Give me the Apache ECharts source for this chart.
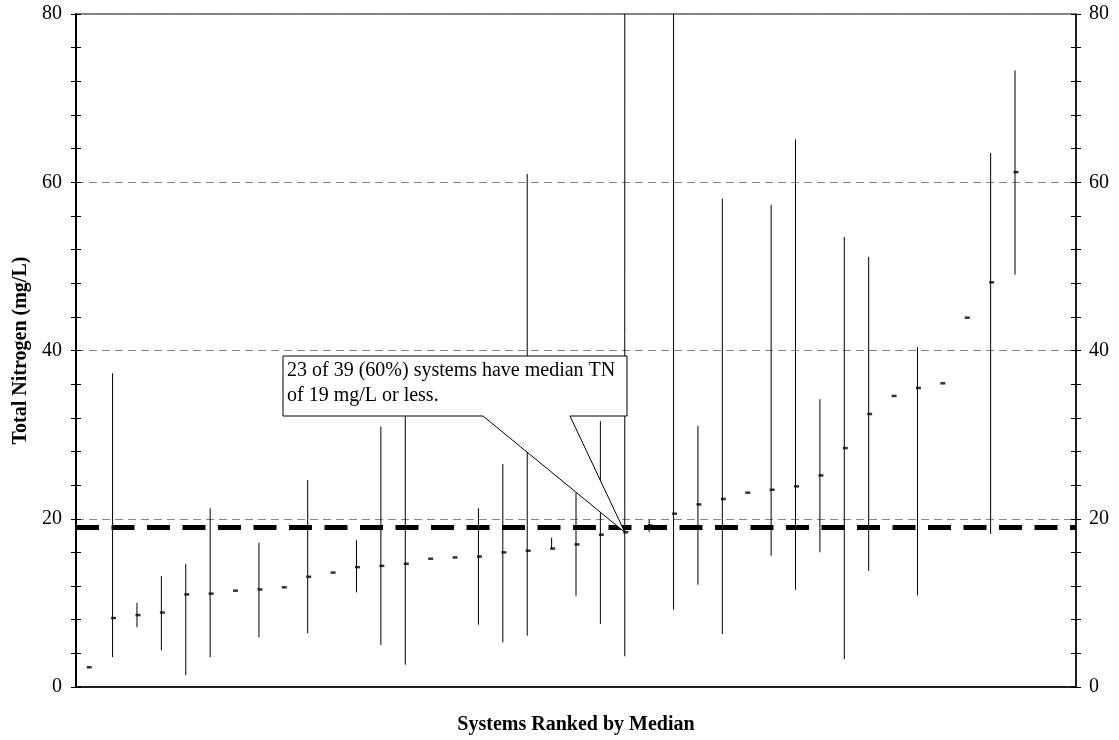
<!DOCTYPE html>
<html>
<head>
<meta charset="utf-8">
<script src="https://cdn.jsdelivr.net/npm/echarts@6/dist/echarts.min.js"></script>
<style>
  html, body { margin: 0; padding: 0; background: #fff; }
  #chart { width: 1119px; height: 740px; }
</style>
</head>
<body>
<div id="chart"></div>
<script>
// Total nitrogen per system: median with min-max range, systems ranked by median
const systems = ['S1','S2','S3','S4','S5','S6','S7','S8','S9','S10','S11','S12','S13','S14','S15','S16','S17','S18','S19','S20',
  'S21','S22','S23','S24','S25','S26','S27','S28','S29','S30','S31','S32','S33','S34','S35','S36','S37','S38','S39','',''];
const medians = [2.35, 8.2, 8.55, 8.85, 11.0, 11.1, 11.45, 11.6, 11.85, 13.1, 13.6, 14.25, 14.4, 14.65, 15.25, 15.4, 15.5, 16.0, 16.2, 16.45,
  16.95, 18.1, 18.4, 19.2, 20.6, 21.7, 22.35, 23.1, 23.45, 23.85, 25.15, 28.4, 32.45, 34.6, 35.55, 36.1, 43.9, 48.1, 61.2];
const lows = [null, 3.55, 7.1, 4.35, 1.4, 3.55, null, 5.9, null, 6.4, null, 11.25, 5.0, 2.65, null, null, 7.4, 5.3, 6.1, 16.45,
  10.8, 7.5, 3.65, 18.45, 9.2, 12.15, 6.3, null, 15.6, 11.55, 16.0, 3.3, 13.8, null, 10.9, null, null, 18.2, 49.0];
const highs = [null, 37.3, 10.0, 13.2, 14.6, 21.25, null, 17.15, null, 24.6, null, 17.45, 30.95, 36.0, null, null, 21.25, 26.5, 61.0, 17.75,
  23.1, 31.6, 80, 19.9, 80, 31.05, 58.05, null, 57.3, 65.1, 34.2, 53.5, 51.15, null, 40.4, null, null, 63.5, 73.3];
const yTicks = [0, 20, 40, 60, 80];
const threshold = 19;
const calloutIndex = 22;
const calloutText = '23 of 39 (60%) systems have median TN\nof 19 mg/L or less.';

const serif = '"Liberation Serif", "Times New Roman", serif';

const rangeData = [];
medians.forEach((m, i) => {
  if (lows[i] != null && highs[i] != null) rangeData.push([i, lows[i], highs[i]]);
});
const medianData = medians.map((m, i) => [i, m]);

function yAxisBase(position, inside, showLabel, lineWidth) {
  return {
    type: 'value',
    position: position,
    min: yTicks[0],
    max: yTicks[yTicks.length - 1],
    interval: yTicks[1] - yTicks[0],
    axisLine: { show: showLabel, onZero: false, lineStyle: { color: '#000', width: lineWidth } },
    axisTick: { show: true, inside: inside, length: 5, lineStyle: { color: '#000', width: 1 } },
    minorTick: { show: true, splitNumber: 5, length: 5, lineStyle: { color: '#000', width: 1 } },
    axisLabel: { show: showLabel, color: '#000', fontFamily: serif, fontSize: 20, margin: position === 'left' ? 14 : 13 },
    splitLine: { show: false }
  };
}

const chart = echarts.init(document.getElementById('chart'), null, { renderer: 'canvas' });

const leftMain = yAxisBase('left', false, true, 2);
leftMain.name = 'Total Nitrogen (mg/L)';
leftMain.nameLocation = 'middle';
leftMain.nameGap = 44;
leftMain.nameTextStyle = { color: '#000', fontFamily: serif, fontSize: 20, fontWeight: 'bold' };
leftMain.splitLine = { show: true, lineStyle: { color: '#888', width: 1, type: [8, 5] } };

chart.setOption({
  animation: false,
  backgroundColor: '#fff',
  grid: { left: 76, right: 43, top: 14, bottom: 50, show: true, borderColor: '#000', borderWidth: 1, backgroundColor: '#fff' },
  xAxis: {
    type: 'category',
    data: systems,
    boundaryGap: true,
    name: 'Systems Ranked by Median',
    nameLocation: 'middle',
    nameGap: 28,
    nameTextStyle: { color: '#000', fontFamily: serif, fontSize: 20, fontWeight: 'bold' },
    axisLine: { show: true, lineStyle: { color: '#000', width: 1.5 } },
    axisTick: { show: false },
    axisLabel: { show: false },
    splitLine: { show: false }
  },
  yAxis: [
    leftMain,
    yAxisBase('left', true, false, 2),
    yAxisBase('right', false, true, 1.5),
    yAxisBase('right', true, false, 1.5)
  ],
  series: [
    {
      name: 'Range',
      type: 'custom',
      data: rangeData,
      encode: { x: 0, y: [1, 2] },
      z: 2,
      renderItem: function (params, api) {
        const i = api.value(0);
        const top = api.coord([i, api.value(2)]);
        const bottom = api.coord([i, api.value(1)]);
        return {
          type: 'line',
          shape: { x1: top[0], y1: top[1], x2: bottom[0], y2: bottom[1] },
          style: { stroke: '#000', lineWidth: 1 }
        };
      }
    },
    {
      name: 'Median',
      type: 'scatter',
      data: medianData,
      symbol: 'rect',
      symbolSize: [5, 2.5],
      symbolOffset: [1, 0],
      itemStyle: { color: '#000' },
      z: 5,
      markLine: {
        silent: true,
        symbol: 'none',
        label: { show: false },
        lineStyle: { color: '#000', width: 5, type: [23, 12.5], cap: 'butt' },
        data: [{ yAxis: threshold }],
        z: 4
      }
    }
  ]
});

// Callout box with its pointer to the median of the highlighted system
const tip = chart.convertToPixel({ xAxisIndex: 0, yAxisIndex: 0 }, [calloutIndex, medians[calloutIndex]]);
const box = { left: 283, top: 356, right: 627, bottom: 416, tailLeft: 483, tailRight: 570 };
chart.setOption({
  graphic: [
    {
      type: 'polygon',
      z: 100,
      shape: {
        points: [
          [box.left, box.top], [box.right, box.top], [box.right, box.bottom],
          [box.tailRight, box.bottom], [tip[0], tip[1]], [box.tailLeft, box.bottom],
          [box.left, box.bottom]
        ]
      },
      style: { fill: '#fff', stroke: '#000', lineWidth: 1 }
    },
    {
      type: 'text',
      z: 101,
      left: box.left + 4,
      top: box.top + 2,
      style: {
        text: calloutText,
        fill: '#000',
        font: '20px ' + serif,
        lineHeight: 25
      }
    }
  ]
});
</script>
</body>
</html>
